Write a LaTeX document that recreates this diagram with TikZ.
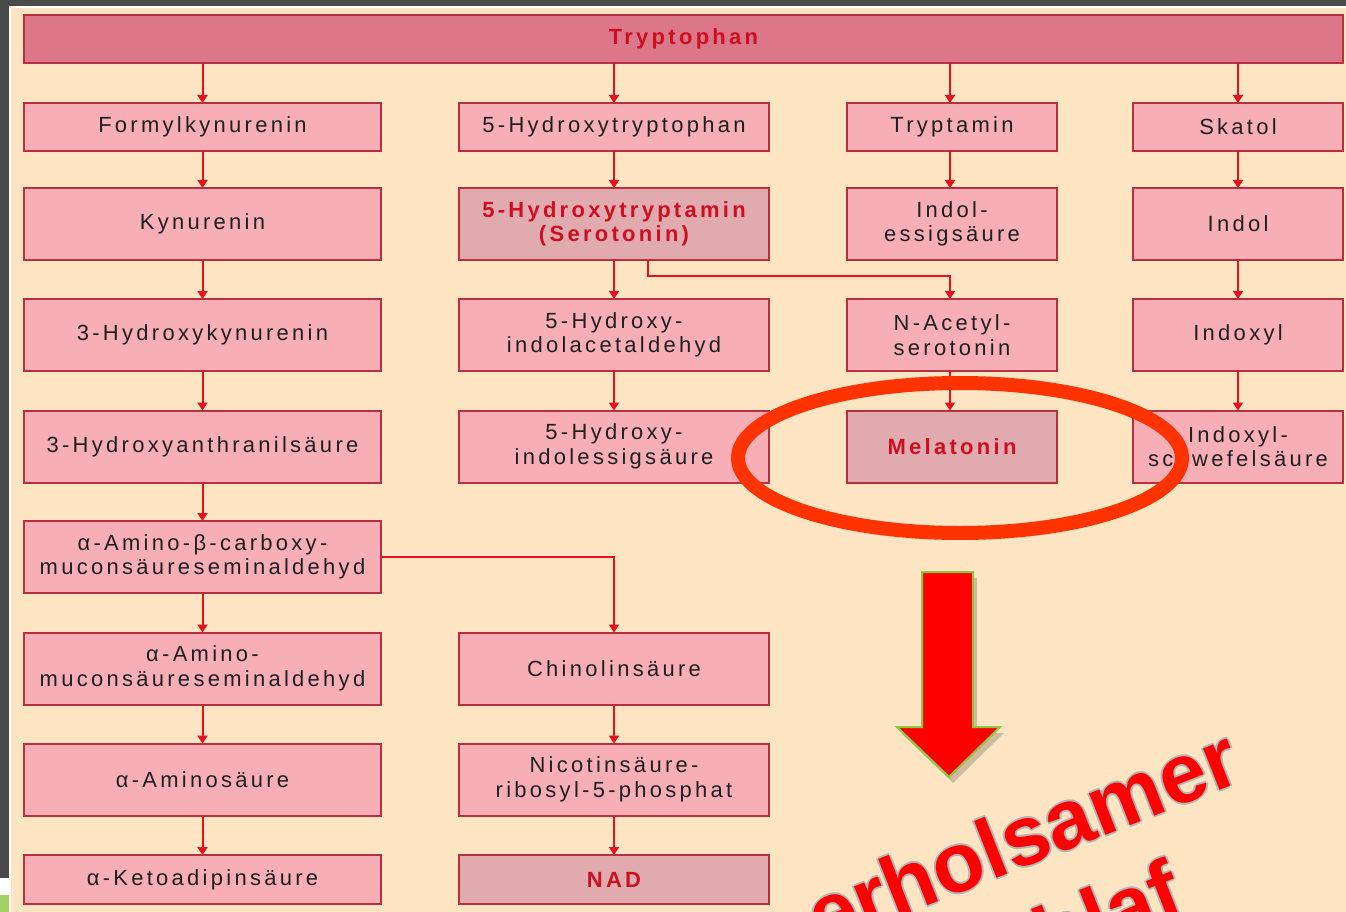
\documentclass[tikz,border=0pt]{standalone}
\usepackage{fontspec}
\setmainfont{Liberation Sans}
\newfontfamily\boxfont[LetterSpace=15]{Liberation Sans}
\newfontfamily\slfont{Liberation Sans}
\usetikzlibrary{arrows.meta,calc,shadows}
\definecolor{bg}{HTML}{FDE5C4}
\definecolor{boxfill}{HTML}{F8AEB7}
\definecolor{hifill}{HTML}{E0AAAE}
\definecolor{topfill}{HTML}{DB7788}
\definecolor{boxline}{HTML}{B8303F}
\definecolor{arrred}{HTML}{E8101C}
\definecolor{hitext}{HTML}{CC1022}
\definecolor{framegray}{HTML}{4A4A4A}
\definecolor{ringred}{HTML}{FF3300}
\definecolor{bigred}{HTML}{FF0000}
\definecolor{arrgreen}{HTML}{8DC63F}
\definecolor{slgray}{HTML}{B4B4B4}
\tikzset{
  box/.style={draw=boxline, line width=0.04cm, fill=boxfill, outer sep=0pt, inner sep=0pt,
    align=center, text=black!88, font=\boxfont\fontsize{12.5pt}{14pt}\selectfont},
  hibox/.style={box, fill=hifill, text=hitext, font=\boxfont\bfseries\fontsize{12.5pt}{14pt}\selectfont},
  topbox/.style={hibox, fill=topfill},
  colA/.style={minimum width=357*0.02cm},
  colB/.style={minimum width=310*0.02cm},
  colC/.style={minimum width=210*0.02cm},
  rowS/.style={minimum height=48*0.02cm},
  rowT/.style={minimum height=72*0.02cm},
  arr/.style={draw=arrred, line width=0.04cm, -{Triangle[width=0.2cm,length=0.16cm]}},
  slogan/.style={font=\slfont\bfseries\fontsize{48pt}{56pt}\selectfont, rotate=21.5, inner sep=0pt}
}
\begin{document}
\begin{tikzpicture}[x=0.02cm,y=-0.02cm]
\useasboundingbox (0,0) rectangle (1346,912);
\clip (0,0) rectangle (1346,912);
% background and frame
\fill[bg] (0,0) rectangle (1346,912);
\fill[framegray] (0,0) rectangle (1346,6);
\fill[white] (9,6) rectangle (1346,8);
\fill[framegray] (0,0) rectangle (9,878);
\fill[white] (9,6) rectangle (11,912);
\fill[white] (0,878) rectangle (9,895);
\fill[arrgreen!80] (0,895) rectangle (9,912);

% top box
\node[topbox, minimum width=1319*0.02cm, rowS] (trp) at (683.5,39) {Tryptophan};

% row 1
\node[box,colA,rowS] (f1) at (202.5,127) {Formylkynurenin};
\node[box,colB,rowS] (h1) at (614,127) {5-Hydroxytryptophan};
\node[box,colC,rowS] (t1) at (952,127) {Tryptamin};
\node[box,colC,rowS] (s1) at (1238,127) {Skatol};
% row 2
\node[box,colA,rowT] (f2) at (202.5,224) {Kynurenin};
\node[hibox,colB,rowT] (h2) at (614,224) {5-Hydroxytryptamin\\(Serotonin)};
\node[box,colC,rowT] (t2) at (952,224) {Indol-\\essigsäure};
\node[box,colC,rowT] (s2) at (1238,224) {Indol};
% row 3
\node[box,colA,rowT] (f3) at (202.5,335) {3-Hydroxykynurenin};
\node[box,colB,rowT] (h3) at (614,335) {5-Hydroxy-\\indolacetaldehyd};
\node[box,colC,rowT] (t3) at (952,335) {N-Acetyl-\\serotonin};
\node[box,colC,rowT] (s3) at (1238,335) {Indoxyl};
% row 4
\node[box,colA,rowT] (f4) at (202.5,446.5) {3-Hydroxyanthranilsäure};
\node[box,colB,rowT] (h4) at (614,446.5) {5-Hydroxy-\\indolessigsäure};
\node[hibox,colC,rowT] (t4) at (952,446.5) {Melatonin};
\node[box,colC,rowT] (s4) at (1238,446.5) {Indoxyl-\\schwefelsäure};
% row 5-8
\node[box,colA,rowT] (f5) at (202.5,557) {α-Amino-β-carboxy-\\muconsäureseminaldehyd};
\node[box,colA,rowT] (f6) at (202.5,668.5) {α-Amino-\\muconsäureseminaldehyd};
\node[box,colB,rowT] (h6) at (614,668.5) {Chinolinsäure};
\node[box,colA,rowT] (f7) at (202.5,779.5) {α-Aminosäure};
\node[box,colB,rowT] (h7) at (614,779.5) {Nicotinsäure-\\ribosyl-5-phosphat};
\node[box,colA,minimum height=49*0.02cm] (f8) at (202.5,879.5) {α-Ketoadipinsäure};
\node[hibox,colB,minimum height=49*0.02cm] (h8) at (614,879.5) {NAD};

% connectors
\foreach \n in {f1,h1,s1} \draw[arr] (trp.south -| \n.north) -- (\n.north);
\draw[arr] ([xshift=-0.04cm]trp.south -| t1.north) -- ([xshift=-0.04cm]t1.north);
\draw[arr] (f1) -- (f2); \draw[arr] (f2) -- (f3); \draw[arr] (f3) -- (f4);
\draw[arr] (f4) -- (f5); \draw[arr] (f5) -- (f6); \draw[arr] (f6) -- (f7);
\draw[arr] (f7) -- (f8);
\draw[arr] (h1) -- (h2); \draw[arr] (h2) -- (h3); \draw[arr] (h3) -- (h4);
\draw[arr] ([xshift=-0.04cm]t1.south) -- ([xshift=-0.04cm]t2.north);
\draw[arr] ([xshift=-0.04cm]t3.south) -- ([xshift=-0.04cm]t4.north);
\draw[arr] (s1) -- (s2); \draw[arr] (s2) -- (s3); \draw[arr] (s3) -- (s4);
\draw[arr] (h6) -- (h7); \draw[arr] (h7) -- (h8);
\draw[arr] ($(h2.south)+(0.68cm,0)$) -- ++(0,16) -| ([xshift=-0.04cm]t3.north);
\draw[arr] (f5.east) -| (h6.north);

% highlight ring
\draw[ringred, line width=0.28cm] (960,458) ellipse [x radius=222*0.02cm, y radius=75*0.02cm];

% big arrow
\fill[black, opacity=0.18] (926,578) -- (977,578) -- (977,733) -- (1004,733) -- (953,783) -- (901,733) -- (926,733) -- cycle;
\draw[fill=bigred, draw=arrgreen, line width=0.04cm] (922,572) coordinate (ba) -- (973,572) -- (973,727) -- (1000,727) -- (949,777) coordinate (bt) -- (897,727) -- (922,727) -- cycle;

% slogan (grey outline, then red)
\foreach \dx/\dy in {2/0,-2/0,0/2,0/-2} {
  \node[slogan, text=slgray] at (1022+\dx,836+\dy) {erholsamer};
  \node[slogan, text=slgray] at (1059+\dx,932+\dy) {Schlaf};
}
\node[slogan, text=bigred] (sl1) at (1022,836) {erholsamer};
\node[slogan, text=bigred] (sl2) at (1059,932) {Schlaf};
\end{tikzpicture}
\end{document}
